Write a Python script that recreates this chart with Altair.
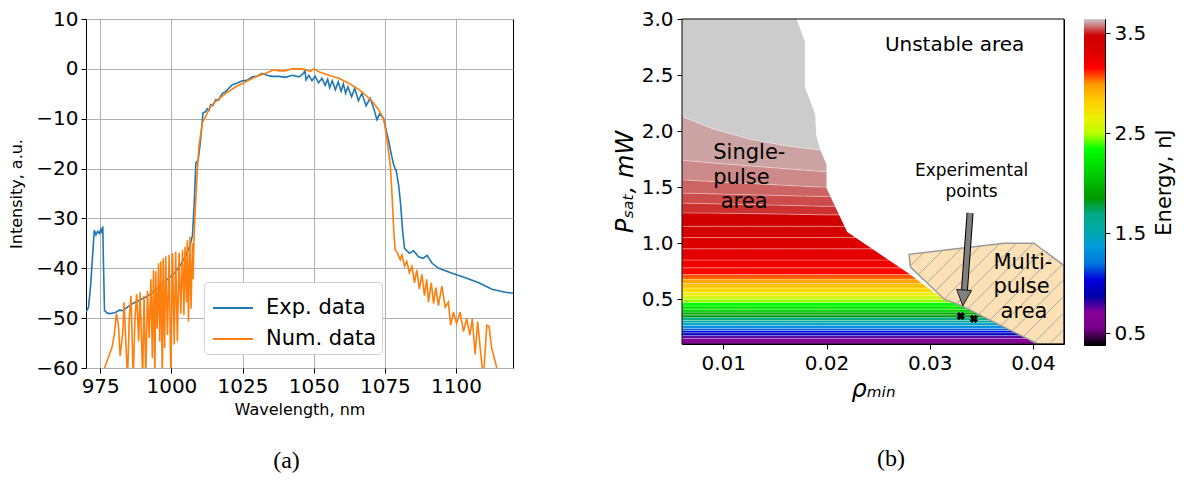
import altair as alt
import pandas as pd

# ---------------- panel (a): spectra ----------------
EXP_X = [970.0, 970.9, 971.7, 972.3, 972.9, 973.5, 974.1, 974.7, 975.2, 975.6, 975.9, 976.1, 976.5, 977.5, 978.5,
         980.5, 981.7, 983.0, 985.0, 987.0, 989.0, 991.0, 993.0, 995.0, 997.0, 999.0, 1001.0, 1003.0, 1005.0,
         1006.5, 1007.4, 1008.0, 1008.6, 1009.4, 1010.3, 1011.1, 1012.0, 1012.6, 1013.2, 1013.8, 1014.5, 1015.6,
         1016.5, 1017.9, 1019.0, 1020.0, 1021.4, 1023.0, 1024.9, 1026.5, 1028.4, 1030.0, 1031.9, 1033.5, 1035.4,
         1037.8, 1040.1, 1042.4, 1044.8, 1046.5, 1046.9, 1047.3, 1048.3, 1049.4, 1050.5, 1051.7, 1052.9, 1054.0,
         1054.9, 1055.6, 1056.5, 1057.6, 1058.6, 1059.6, 1060.4, 1061.2, 1062.0, 1063.3, 1064.4, 1065.7, 1066.9,
         1068.4, 1069.8, 1071.0, 1072.2, 1073.2, 1074.6, 1075.5, 1076.3, 1077.2, 1078.1, 1079.0, 1079.8, 1080.5,
         1081.2, 1081.9, 1083.6, 1085.1, 1086.8, 1088.4, 1089.8, 1091.6, 1093.9, 1098.6, 1103.3, 1108.0, 1112.6,
         1117.3, 1120.0]
EXP_Y = [-48.8, -47.8, -42.9, -37.6, -32.4, -33.3, -32.6, -33.0, -32.2, -33.0, -31.6, -38.0, -48.5, -49.0, -49.1,
         -48.8, -48.4, -48.5, -47.6, -46.9, -46.3, -45.8, -45.0, -44.0, -43.0, -42.0, -41.0, -39.5, -37.5,
         -35.5, -33.4, -27.2, -18.9, -18.3, -14.0, -8.8, -8.6, -8.0, -8.3, -7.2, -7.4, -6.2,
         -6.3, -4.9, -4.6, -4.0, -3.2, -2.9, -2.4, -2.3, -1.6, -1.5, -0.9, -1.3, -1.5,
         -1.5, -1.7, -1.3, -1.6, -0.9, -0.2, -2.2, -1.3, -2.4, -1.5, -2.8, -1.9, -3.3,
         -2.1, -3.8, -2.4, -4.2, -2.6, -4.5, -3.0, -4.9, -3.6, -5.6, -3.9, -6.4, -4.9,
         -7.4, -5.9, -7.8, -10.2, -9.0, -10.0, -12.5, -14.4, -17.0, -19.3, -20.5, -23.2, -27.0,
         -32.4, -36.0, -37.0, -36.5, -37.7, -38.0, -37.4, -39.0, -40.0, -41.0, -41.9, -42.9, -44.2,
         -44.8, -45.0]

NUM_X = [975.0, 975.8, 977.0, 978.2, 979.1, 979.9, 980.7, 981.4, 982.0, 982.9, 983.4, 984.0, 984.6, 985.2, 985.8,
         986.6, 987.2, 987.8, 988.5, 989.0, 989.9, 990.4, 991.0, 991.6, 992.2, 992.8, 993.3, 993.7, 994.2, 994.5,
         995.0, 995.5, 995.9, 996.3, 996.8, 997.1, 997.6, 998.0, 998.6, 999.2, 999.8, 1000.4, 1001.0, 1001.5,
         1002.1, 1002.7, 1003.3, 1003.9, 1004.4, 1004.8, 1005.3, 1005.6, 1006.0, 1006.5, 1006.9, 1007.4, 1007.6,
         1008.0, 1008.5, 1009.1, 1009.7, 1010.9, 1012.1, 1013.8, 1015.6, 1019.1, 1022.6, 1026.1, 1029.6, 1033.1,
         1036.0, 1038.0, 1040.1, 1042.4, 1045.9, 1047.7, 1048.9, 1050.0, 1051.8, 1055.3, 1058.8, 1062.3, 1065.8,
         1068.1, 1070.5, 1072.8, 1074.6, 1075.7, 1076.9, 1077.5, 1078.1, 1078.6, 1079.2, 1080.4, 1081.0, 1081.9,
         1082.7, 1083.6, 1084.5, 1085.4, 1086.2, 1087.1, 1088.0, 1088.9, 1089.7, 1090.3, 1091.3, 1092.1, 1092.9,
         1093.8, 1095.0, 1096.2, 1097.3, 1098.1, 1099.1, 1100.2, 1101.4, 1102.6, 1103.7, 1104.9, 1105.7, 1106.7,
         1107.6, 1108.7, 1109.6, 1110.8, 1111.6, 1112.5, 1113.7, 1114.5, 1115.5]
NUM_Y = [-62.0, -61.2, -59.2, -57.3, -56.0, -53.4, -49.1, -51.4, -57.6, -53.0, -46.8, -55.0, -62.0, -50.0, -45.5,
         -62.0, -50.0, -45.2, -54.7, -44.8, -62.0, -45.5, -62.0, -44.5, -54.0, -42.2, -58.0, -40.3, -62.0, -40.6,
         -52.1, -39.0, -54.7, -38.6, -62.0, -38.0, -56.0, -37.6, -53.4, -37.3, -62.0, -37.0, -55.3, -36.7,
         -54.7, -36.9, -49.1, -36.3, -49.4, -35.7, -46.8, -34.4, -50.7, -33.7, -48.1, -35.0, -42.2,
         -33.1, -27.0, -20.6, -15.4, -10.8, -9.5, -7.5, -6.5, -4.9, -3.6, -2.6, -1.6, -0.9,
         -0.2, -0.4, -0.4, 0.0, 0.0, -0.3, -0.5, 0.0, -0.6, -1.3, -1.9, -2.9, -4.1,
         -5.2, -6.5, -8.2, -10.1, -14.0, -19.3, -25.2, -32.4, -36.3, -36.7, -38.3, -37.3, -39.6,
         -38.6, -40.9, -39.6, -42.9, -40.3, -44.2, -41.2, -45.5, -42.2, -46.8, -42.9, -47.1, -43.9,
         -47.5, -43.6, -47.8, -46.8, -51.4, -48.8, -51.1, -48.8, -52.7, -50.1, -53.4, -50.1, -57.3,
         -50.7, -57.3, -62.0, -51.4, -51.7, -56.0, -58.6, -60.5, -64.0]

SERIES = ["Exp. data", "Num. data"]
SERIES_COLORS = ["#1f77b4", "#ff7f0e"]
A_XDOMAIN = [970, 1120]
A_YDOMAIN = [-60, 10]
A_XTICKS = [975, 1000, 1025, 1050, 1075, 1100]
A_YTICKS = [-60, -50, -40, -30, -20, -10, 0, 10]

# ---------------- panel (b): energy map ----------------
B_XDOMAIN = [0.006, 0.043]
B_YDOMAIN = [0.1, 3.0]
B_XTICKS = [0.01, 0.02, 0.03, 0.04]
B_YTICKS = [0.5, 1.0, 1.5, 2.0, 2.5, 3.0]

# x positions at which the contour edges are sampled
BAND_XS = [0.006, 0.009, 0.0125, 0.016, 0.0195, 0.043]
# flat contour edges (P_sat, mW), bottom to top
FLAT_EDGES = [0.10, 0.15, 0.175, 0.20, 0.22, 0.24, 0.265, 0.29, 0.31, 0.335, 0.36, 0.385, 0.41, 0.44,
              0.47, 0.50, 0.53, 0.56, 0.60, 0.64, 0.68, 0.72, 0.78, 0.85, 0.95, 1.05, 1.15]
# tilted contour edges (P_sat at each BAND_XS), bottom to top
TILT_EDGE_1 = [1.27, 1.268, 1.264, 1.259, 1.253, 1.25]
TILT_EDGE_2 = [1.358, 1.352, 1.345, 1.338, 1.33, 1.33]
TILT_EDGE_3 = [1.447, 1.44, 1.432, 1.424, 1.417, 1.417]
TILT_EDGE_4 = [1.566, 1.55, 1.533, 1.516, 1.50, 1.50]
TILT_EDGE_5 = [1.74, 1.715, 1.69, 1.665, 1.64, 1.64]
GREY_EDGE = [2.13, 2.02, 1.93, 1.87, 1.83, 1.80]
TOP_EDGE = [3.0, 3.0, 3.0, 3.0, 3.0, 3.0]
# pulse energy (nJ) of each band between consecutive edges
BAND_ENERGY = [0.68, 0.77, 0.94, 1.04, 1.17, 1.30, 1.43, 1.56, 1.69, 1.82, 1.95, 2.11, 2.24, 2.34, 2.47,
               2.57, 2.67, 2.76, 2.86, 2.96, 3.06, 3.15, 3.22, 3.28, 3.33, 3.38, 3.43, 3.52, 3.54, 3.56,
               3.59, 3.61, 3.70]

# right boundary of the single-pulse (coloured) region
UB_Y = [0.10, 0.275, 0.453, 0.512, 0.562, 0.72, 1.10, 1.49, 1.70, 1.83, 1.96, 2.15, 2.39, 2.80, 3.00]
UB_X = [0.0403, 0.0369, 0.0333, 0.0312, 0.0304, 0.0281, 0.0220, 0.0200, 0.0200, 0.0194, 0.0190, 0.0189,
        0.0179, 0.0179, 0.0171]

# multi-pulse region
MP_Y = [0.10, 0.26, 0.44, 0.50, 0.78, 0.80, 0.90, 0.95, 1.00]
MP_XL = [0.0405, 0.0370, 0.0331, 0.0314, 0.0282, 0.0281, 0.0280, 0.0326, 0.0372]
MP_XR = [0.043, 0.043, 0.043, 0.043, 0.043, 0.043, 0.04155, 0.0408, 0.0401]

# experimental points
PTS_RHO = [0.0330, 0.03427]
PTS_P = [0.349, 0.325]

# arrow
ARROW_TAIL = [0.0339, 1.27]
ARROW_NECK = [0.03336, 0.58]
ARROW_TIP = [0.0332, 0.44]

# colour bar (nipy_spectral) and its range
CB_MIN, CB_MAX = 0.383, 3.643
CB_TICKS = [0.5, 1.5, 2.5, 3.5]
NIPY = ["#000000", "#770088", "#880099", "#0000aa", "#0000dd", "#0077dd", "#0099dd", "#00aaaa", "#00aa88",
        "#009900", "#00bb00", "#00dd00", "#00ff00", "#bbff00", "#eeee00", "#ffcc00", "#ff9900", "#ff0000",
        "#dd0000", "#cc0000", "#cccccc"]

LABELS_BIG = ["Single-", "pulse", "area", "Multi-", "pulse", "area"]
LABELS_BIG_X = [0.00903, 0.00903, 0.00975, 0.03616, 0.03616, 0.03686]
LABELS_BIG_Y = [1.80, 1.58, 1.37, 0.824, 0.61, 0.384]
LABELS_C = ["Unstable area", "Experimental", "points"]
LABELS_C_X = [0.0324, 0.03405, 0.03405]
LABELS_C_Y = [2.77, 1.64, 1.46]
LABELS_C_SIZE = [20, 17, 17]

FONT = "DejaVu Sans"

# ================= panel (a) =================
exp_df = pd.DataFrame({"wl": EXP_X, "inten": EXP_Y, "series": SERIES[0]})
num_df = pd.DataFrame({"wl": NUM_X, "inten": NUM_Y, "series": SERIES[1]})

a_x = alt.X("wl:Q", scale=alt.Scale(domain=A_XDOMAIN, nice=False, zero=False),
            axis=alt.Axis(values=A_XTICKS, format="d", title="Wavelength, nm", grid=True,
                          gridColor="#b0b0b0", gridWidth=1, labelFontSize=20, titleFontSize=16,
                          labelPadding=3, titlePadding=5))
a_y = alt.Y("inten:Q", scale=alt.Scale(domain=A_YDOMAIN, nice=False, zero=False),
            axis=alt.Axis(values=A_YTICKS, format="d", title="Intensity, a.u.", grid=True,
                          gridColor="#b0b0b0", gridWidth=1, labelFontSize=20, titleFontSize=16,
                          labelPadding=3, titlePadding=11))
a_color = alt.Color("series:N", scale=alt.Scale(domain=SERIES, range=SERIES_COLORS),
                    legend=alt.Legend(title=None, orient="none", legendX=118, legendY=263,
                                      labelFontSize=21, symbolType="stroke", symbolStrokeWidth=2,
                                      symbolSize=1600, symbolOffset=3, fillColor="white",
                                      strokeColor="#d0d0d0", cornerRadius=4, padding=5, rowPadding=-10,
                                      labelOffset=12, labelFont=FONT))

line_exp = alt.Chart(exp_df).mark_line(strokeWidth=1.6, clip=True).encode(x=a_x, y=a_y, color=a_color)
line_num = alt.Chart(num_df).mark_line(strokeWidth=1.6, clip=True).encode(x=a_x, y=a_y, color=a_color)

panel_a = alt.layer(line_exp, line_num).properties(
    width=427, height=349,
    title=alt.TitleParams("(a)", orient="bottom", font="Liberation Serif", fontSize=24,
                          fontWeight="normal", offset=32, anchor="middle", frame="group", dx=-13))

# ================= panel (b) =================
edges = [[e] * len(BAND_XS) for e in FLAT_EDGES] + [TILT_EDGE_1, TILT_EDGE_2, TILT_EDGE_3,
                                                     TILT_EDGE_4, TILT_EDGE_5, GREY_EDGE, TOP_EDGE]
rows = []
for i, energy in enumerate(BAND_ENERGY):
    for j, xv in enumerate(BAND_XS):
        rows.append({"band": i, "rho": xv, "plo": edges[i][j], "phi": edges[i + 1][j], "E": energy})
band_df = pd.DataFrame(rows)

b_xscale = alt.Scale(domain=B_XDOMAIN, nice=False, zero=False)
b_yscale = alt.Scale(domain=B_YDOMAIN, nice=False, zero=False)
b_xaxis = alt.Axis(values=B_XTICKS, format=".2f", title="ρₘᵢₙ", grid=False, labelFontSize=20,
                   titleFontSize=24, titleFontStyle="italic", labelPadding=4, titlePadding=4)
b_yaxis = alt.Axis(values=B_YTICKS, format=".1f", title="Pₛₐₜ, mW", grid=False, labelFontSize=20,
                   titleFontSize=24, titleFontStyle="italic", labelPadding=4, titlePadding=4)


def bx(field, **kw):
    return alt.X(field, scale=b_xscale, axis=b_xaxis, **kw)


def by(field, **kw):
    return alt.Y(field, scale=b_yscale, axis=b_yaxis, **kw)


cb_domain = [CB_MIN + (CB_MAX - CB_MIN) * k / (len(NIPY) - 1) for k in range(len(NIPY))]
b_color = alt.Color("E:Q", scale=alt.Scale(domain=cb_domain, range=NIPY, interpolate="rgb", clamp=True),
                    legend=None)

bands = alt.Chart(band_df).mark_area(clip=True, opacity=1, stroke="white", strokeWidth=0.4,
                                     strokeOpacity=0.7).encode(
    x=bx("rho:Q"), y=by("plo:Q", stack=False), y2="phi:Q", color=b_color, detail="band:N")

ub_df = pd.DataFrame({"p": UB_Y, "xb": UB_X, "xr": [B_XDOMAIN[1]] * len(UB_Y)})
unstable = alt.Chart(ub_df).mark_area(orient="horizontal", color="white", opacity=1, clip=True).encode(
    y=by("p:Q"), x=bx("xb:Q", stack=False), x2="xr:Q")

mp_df = pd.DataFrame({"p": MP_Y, "xl": MP_XL, "xr": MP_XR})
multi = alt.Chart(mp_df).mark_area(orient="horizontal", fill="#fde0b4", stroke="#999999", strokeWidth=1.5,
                                   opacity=1, clip=True).encode(
    y=by("p:Q"), x=bx("xl:Q", stack=False), x2="xr:Q")

# hatch lines ('/') clipped to the multi-pulse polygon
SX = 382 / (B_XDOMAIN[1] - B_XDOMAIN[0])
SY = 325 / (B_YDOMAIN[1] - B_YDOMAIN[0])
poly = [(x, y) for x, y in zip(MP_XL, MP_Y)] + [(x, y) for x, y in zip(MP_XR[::-1], MP_Y[::-1])]
P = [((x - B_XDOMAIN[0]) * SX, (y - B_YDOMAIN[0]) * SY) for x, y in poly]
cs = [v - u for u, v in P]
spacing = 16.7
hatch = []
c = (min(cs) // spacing) * spacing
while c <= max(cs):
    pts = []
    for k in range(len(P)):
        (u1, v1), (u2, v2) = P[k], P[(k + 1) % len(P)]
        f1, f2 = v1 - u1 - c, v2 - u2 - c
        if (f1 < 0) != (f2 < 0):
            t = f1 / (f1 - f2)
            pts.append(u1 + t * (u2 - u1))
    pts.sort()
    for a, b in zip(pts[0::2], pts[1::2]):
        hatch.append({"x1": a / SX + B_XDOMAIN[0], "y1": (a + c) / SY + B_YDOMAIN[0],
                      "x2": b / SX + B_XDOMAIN[0], "y2": (b + c) / SY + B_YDOMAIN[0]})
    c += spacing
hatch_df = pd.DataFrame(hatch)
hatch_layer = alt.Chart(hatch_df).mark_rule(color="#a8a8a8", strokeWidth=1, clip=True).encode(
    x=bx("x1:Q"), y=by("y1:Q"), x2="x2:Q", y2="y2:Q")

arrow_df = pd.DataFrame({"x1": [ARROW_TAIL[0]], "y1": [ARROW_TAIL[1]], "x2": [ARROW_NECK[0]],
                         "y2": [ARROW_NECK[1]], "tx": [ARROW_TIP[0]], "ty": [ARROW_TIP[1]]})
shaft_o = alt.Chart(arrow_df).mark_rule(color="black", strokeWidth=7).encode(
    x=bx("x1:Q"), y=by("y1:Q"), x2="x2:Q", y2="y2:Q")
shaft_i = alt.Chart(arrow_df).mark_rule(color="#808080", strokeWidth=5).encode(
    x=bx("x1:Q"), y=by("y1:Q"), x2="x2:Q", y2="y2:Q")
head = alt.Chart(arrow_df).mark_point(shape="M0,0L-0.47,-1L0.47,-1Z", filled=True, fill="#808080",
                                      stroke="black", strokeWidth=0.8, size=1024, angle=4.5,
                                      opacity=1).encode(x=bx("tx:Q"), y=by("ty:Q"))

pts_df = pd.DataFrame({"rho": PTS_RHO, "p": PTS_P})
points = alt.Chart(pts_df).mark_point(shape="cross", angle=45, filled=True, color="black", size=70,
                                      opacity=1).encode(x=bx("rho:Q"), y=by("p:Q"))

tb_df = pd.DataFrame({"t": LABELS_BIG, "rho": LABELS_BIG_X, "p": LABELS_BIG_Y})
text_big = alt.Chart(tb_df).mark_text(align="left", baseline="middle", fontSize=21, font=FONT,
                                      color="black").encode(x=bx("rho:Q"), y=by("p:Q"), text="t:N")
tc_df = pd.DataFrame({"t": LABELS_C, "rho": LABELS_C_X, "p": LABELS_C_Y, "s": LABELS_C_SIZE})
text_c = alt.Chart(tc_df).mark_text(align="center", baseline="middle", font=FONT, color="black").encode(
    x=bx("rho:Q"), y=by("p:Q"), text="t:N", size=alt.Size("s:Q", scale=None, legend=None))

# axes frame drawn over the filled regions
frame_df = pd.DataFrame({"x1": [B_XDOMAIN[0]], "x2": [B_XDOMAIN[1]], "y1": [B_YDOMAIN[0]],
                         "y2": [B_YDOMAIN[1]]})
frame = alt.Chart(frame_df).mark_rect(filled=False, stroke="black", strokeWidth=1, fillOpacity=0).encode(
    x=bx("x1:Q"), x2="x2:Q", y=by("y1:Q"), y2="y2:Q")

panel_b = alt.layer(bands, unstable, multi, hatch_layer, shaft_o, shaft_i, head, points, text_big,
                    text_c, frame).properties(
    width=382, height=325,
    title=alt.TitleParams("(b)", orient="bottom", font="Liberation Serif", fontSize=24,
                          fontWeight="normal", offset=46, anchor="middle", frame="group", dx=18))

# ================= colour bar =================
cbar_df = pd.DataFrame({"k": ["bar"], "lo": [CB_MIN], "hi": [CB_MAX]})
cb_gradient = alt.LinearGradient(
    gradient="linear", x1=0, x2=0, y1=1, y2=0,
    stops=[alt.GradientStop(offset=k / (len(NIPY) - 1), color=col) for k, col in enumerate(NIPY)])
cbar = alt.Chart(cbar_df).mark_rect(fill=cb_gradient, opacity=1).encode(
    x=alt.X("k:N", axis=None, scale=alt.Scale(paddingInner=0, paddingOuter=0)),
    y=alt.Y("lo:Q", scale=alt.Scale(domain=[CB_MIN, CB_MAX], nice=False, zero=False),
            axis=alt.Axis(orient="right", values=CB_TICKS, format=".1f", title="Energy, nJ", grid=False,
                          labelFontSize=20, titleFontSize=21, titleAngle=270, titleBaseline="top",
                          labelPadding=4, titlePadding=8)),
    y2="hi:Q").properties(width=21, height=326)

right = alt.hconcat(panel_b, cbar, spacing=18)

chart = alt.hconcat(panel_a, right, spacing=98).resolve_scale(color="independent").properties(
    padding={"left": 0, "top": 0, "right": 0, "bottom": 0}).configure(
    font=FONT).configure_view(stroke="black", strokeWidth=1).configure_axis(
    domain=False, tickColor="black", tickSize=5, labelColor="black", titleColor="black", labelFont=FONT,
    titleFont=FONT, titleFontWeight="normal", labelFlush=False, labelOverlap=False)

chart.save("out.html", embed_options={"renderer": "svg", "actions": False})
